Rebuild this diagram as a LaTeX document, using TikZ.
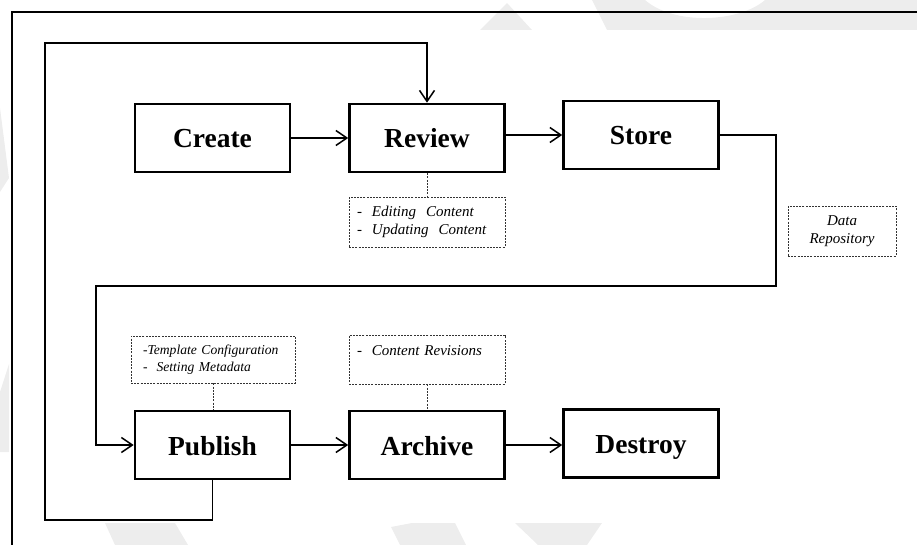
\documentclass[tikz,border=0pt]{standalone}
\usepackage{fontspec}
\setmainfont{Liberation Serif}
\usetikzlibrary{arrows.meta}
\tikzset{
  stage/.style={draw, line width=2.6pt, minimum width=155pt, minimum height=68pt,
    inner sep=0pt, text height=25pt, text depth=5pt,
    font=\fontsize{27.5}{30}\selectfont\bfseries},
  note/.style={draw=black!80, dash pattern=on 2pt off 1.2pt, line width=0.8pt,
    inner xsep=8pt, inner ysep=4pt, align=left, text width=140pt,
    font=\fontsize{15}{18.5}\selectfont\itshape},
  notelink/.style={draw=black!80, dash pattern=on 2pt off 1.2pt, line width=0.8pt},
  flow/.style={line width=1.5pt, -{Straight Barb[length=11pt,width=15pt,line width=1.5pt]}},
  wm/.style={fill=black!7, draw=none}
}
\begin{document}
\begin{tikzpicture}[x=1pt,y=-1pt]
\useasboundingbox (0,0) rectangle (917,545);
% faint watermark
\fill[wm] (480,30) -- (507,3) -- (532,30) -- cycle;
\fill[wm] (592,0) -- (607,30) -- (917,30) -- (917,0) -- (765,0)
  .. controls (740,22) and (675,26) .. (645,0) -- cycle;
\fill[wm] (105,523) -- (175,523) -- (188,545) -- (115,545) -- cycle;
\fill[wm] (391,527) -- (412,523) -- (455,523) -- (466,545) -- (400,545) -- cycle;
\fill[wm] (515,523) -- (602,523) -- (587,545) -- (538,545) -- cycle;
\fill[wm] (0,108) -- (9,178) -- (0,192) -- cycle;
\fill[wm] (0,392) -- (9,364) -- (9,452) -- (0,452) -- cycle;
% frame
\draw[line width=1.8pt] (12,545) -- (12,12) -- (917,12);
% stages
\node[stage] (create)  at (212.5,138) {Create};
\node[stage] (review)  at (427,138)   {Review};
\node[stage] (store)   at (641,135)   {Store};
\node[stage] (publish) at (212.5,445) {Publish};
\node[stage] (archive) at (427,445)   {Archive};
\node[stage] (destroy) at (641,443.5) {Destroy};
% notes
\node[note, minimum height=50pt] (revnote) at (427,222)
  {-\ \ Editing\ \ Content\\-\ \ Updating\ \ Content};
\node[note, minimum height=50pt, text width=92pt, align=center] (repo) at (842,231)
  {Data\\Repository};
\node[note, minimum height=47pt, inner xsep=12pt, font=\fontsize{13.6}{17}\selectfont\itshape] (tmpl) at (213,359.5)
  {-Template Configuration\\-\ \ Setting Metadata};
\node[note, minimum height=49pt] (contrev) at (427,359.5)
  {-\ \ Content Revisions\\\mbox{}};
% note links
\draw[notelink] (review.south) -- (revnote.north);
\draw[notelink] (tmpl.south) -- (tmpl.south |- publish.north);
\draw[notelink] (contrev.south) -- (archive.north);
% flow
\coordinate (sr) at (776,286);
\coordinate (sl) at (96,286);
\coordinate (fb1) at (45,520);
\coordinate (fb2) at (45,43);
\draw[flow] (create) -- (review);
\draw[flow] (store.west -| review.east) -- (store.west);
\draw[flow] (store.east) -| (sr) -- (sl) |- (publish.west);
\draw[flow] (publish) -- (archive);
\draw[flow] (archive.east) -- (archive.east -| destroy.west);
\draw[flow] (publish.south) |- (fb1) -- (fb2) -| (review.north);
\end{tikzpicture}
\end{document}
